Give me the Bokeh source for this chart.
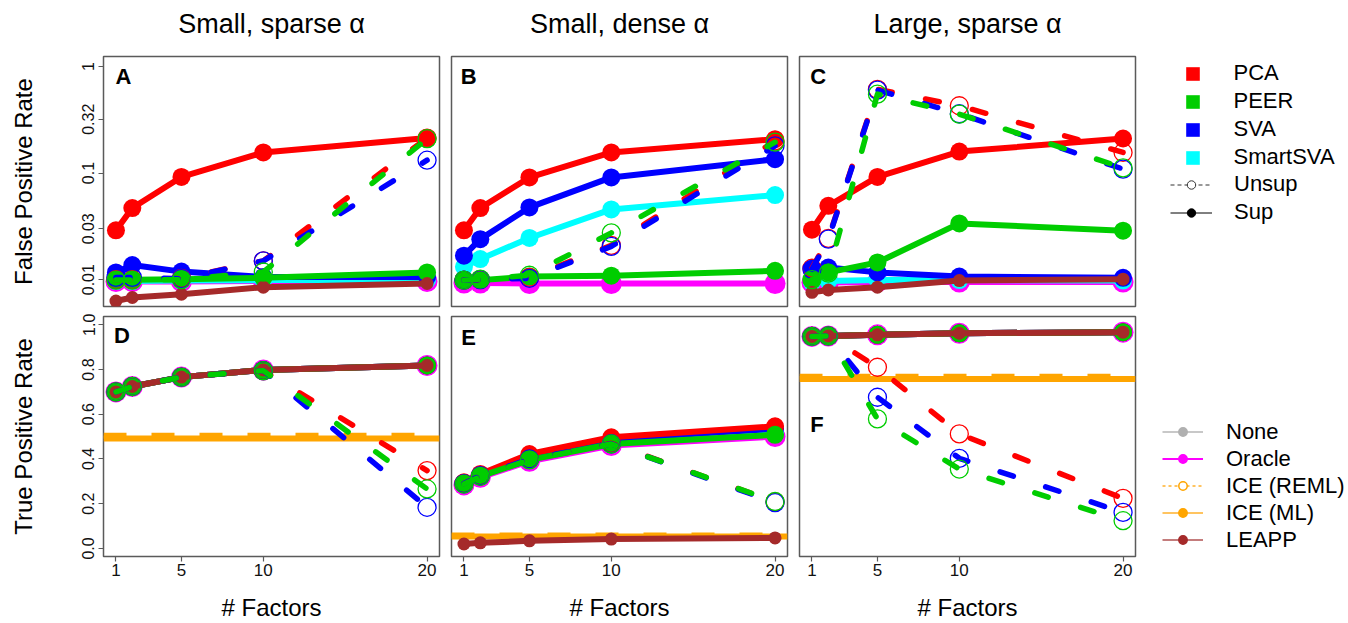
import math
from bokeh.plotting import figure
from bokeh.models import (Range1d, FixedTicker, Label, Span, Legend, LegendItem,
                          PrintfTickFormatter, LinearAxis)
from bokeh.layouts import row, column
from bokeh.embed import file_html
from bokeh.resources import INLINE

# ---------------- data ----------------
factors = [1, 2, 5, 10, 20]
x_ticks = [1, 5, 10, 20]
fpr_ticks = [0.01, 0.03, 0.1, 0.32, 1]
fpr_tick_labels = ["0.01", "0.03", "0.1", "0.32", "1"]
tpr_ticks = [0.0, 0.2, 0.4, 0.6, 0.8, 1.0]
column_titles = ["Small, sparse \u03b1", "Small, dense \u03b1", "Large, sparse \u03b1"]
row_titles = ["False Positive Rate", "True Positive Rate"]
x_title = "# Factors"
panel_letters = ["A", "B", "C", "D", "E", "F"]
method_names = ["PCA", "PEER", "SVA", "SmartSVA"]
mode_names = ["Unsup", "Sup"]
other_names = ["None", "Oracle", "ICE (REML)", "ICE (ML)", "LEAPP"]

# Panel A: FPR, small sparse
A_sup_PCA = [0.029, 0.047, 0.092, 0.156, 0.213]
A_sup_PEER = [0.0100, 0.0100, 0.0101, 0.0104, 0.0117]
A_sup_SVA = [0.0117, 0.0137, 0.0119, 0.0106, 0.0106]
A_sup_SmartSVA = [0.0097, 0.0097, 0.0098, 0.0099, 0.0099]
A_sup_Oracle = [0.0096, 0.0096, 0.0096, 0.0097, 0.0096]
A_sup_LEAPP = [0.0063, 0.0068, 0.0073, 0.0085, 0.0092]
A_unsup_PCA = [0.0100, 0.0100, 0.0103, 0.0150, 0.213]
A_unsup_SVA = [0.0105, 0.0105, 0.0102, 0.0150, 0.132]
A_unsup_PEER = [0.0099, 0.0099, 0.0100, 0.0118, 0.210]

# Panel B: FPR, small dense
B_sup_PCA = [0.029, 0.047, 0.091, 0.156, 0.208]
B_sup_PEER = [0.0099, 0.0099, 0.0107, 0.0109, 0.0121]
B_sup_SVA = [0.0168, 0.024, 0.0476, 0.091, 0.135]
B_sup_SmartSVA = [0.0132, 0.0156, 0.0246, 0.0456, 0.0622]
B_sup_Oracle = [0.0093, 0.0093, 0.0092, 0.0092, 0.0092]
B_sup_LEAPP = None
B_unsup_PCA = [0.0099, 0.0100, 0.0105, 0.0210, 0.200]
B_unsup_SVA = [0.0099, 0.0100, 0.0103, 0.0205, 0.180]
B_unsup_PEER = [0.0099, 0.0101, 0.0110, 0.0275, 0.195]

# Panel C: FPR, large sparse
C_sup_PCA = [0.0294, 0.0493, 0.092, 0.159, 0.211]
C_sup_PEER = [0.0099, 0.0117, 0.0145, 0.0337, 0.0288]
C_sup_SVA = [0.0126, 0.0130, 0.0117, 0.0107, 0.0104]
C_sup_SmartSVA = [0.0095, 0.0097, 0.0099, 0.0099, 0.0098]
C_sup_Oracle = [0.0094, 0.0094, 0.0095, 0.0095, 0.0095]
C_sup_LEAPP = [0.0076, 0.0080, 0.0085, 0.0098, 0.0101]
C_unsup_PCA = [0.0128, 0.0244, 0.61, 0.428, 0.156]
C_unsup_SVA = [0.0125, 0.0240, 0.60, 0.36, 0.109]
C_unsup_PEER = [0.0100, 0.0115, 0.55, 0.357, 0.112]

# Panel D: TPR, small sparse
D_sup_PCA = [0.700, 0.724, 0.766, 0.798, 0.818]
D_sup_PEER = [0.700, 0.724, 0.766, 0.798, 0.818]
D_sup_SVA = [0.700, 0.724, 0.766, 0.798, 0.818]
D_sup_SmartSVA = [0.700, 0.724, 0.766, 0.798, 0.818]
D_sup_Oracle = [0.700, 0.724, 0.766, 0.798, 0.818]
D_sup_LEAPP = [0.700, 0.724, 0.766, 0.798, 0.818]
D_unsup_PCA = [0.700, 0.724, 0.766, 0.795, 0.348]
D_unsup_SVA = [0.700, 0.724, 0.766, 0.795, 0.184]
D_unsup_PEER = [0.700, 0.724, 0.766, 0.795, 0.266]

# Panel E: TPR, small dense
E_sup_PCA = [0.296, 0.333, 0.422, 0.497, 0.546]
E_sup_PEER = [0.288, 0.322, 0.396, 0.467, 0.508]
E_sup_SVA = [0.293, 0.329, 0.415, 0.489, 0.535]
E_sup_SmartSVA = [0.290, 0.325, 0.400, 0.472, 0.515]
E_sup_Oracle = [0.284, 0.318, 0.390, 0.460, 0.500]
E_sup_LEAPP = [0.020, 0.025, 0.034, 0.042, 0.047]
E_unsup_PCA = [0.290, 0.325, 0.400, 0.470, 0.208]
E_unsup_SVA = [0.290, 0.325, 0.400, 0.468, 0.205]
E_unsup_PEER = [0.288, 0.322, 0.396, 0.467, 0.210]

# Panel F: TPR, large sparse
F_sup_PCA = [0.948, 0.950, 0.955, 0.962, 0.967]
F_sup_PEER = [0.948, 0.950, 0.955, 0.962, 0.967]
F_sup_SVA = [0.948, 0.950, 0.955, 0.962, 0.967]
F_sup_SmartSVA = [0.948, 0.950, 0.955, 0.962, 0.967]
F_sup_Oracle = [0.948, 0.950, 0.955, 0.962, 0.967]
F_sup_LEAPP = [0.948, 0.950, 0.955, 0.962, 0.967]
F_unsup_PCA = [0.948, 0.950, 0.810, 0.512, 0.224]
F_unsup_SVA = [0.948, 0.950, 0.676, 0.403, 0.161]
F_unsup_PEER = [0.948, 0.950, 0.579, 0.355, 0.124]

# ICE horizontal levels (TPR panels D, E, F)
ICE_ML_TPR = [0.492, 0.053, 0.758]
ICE_REML_TPR = [0.504, 0.058, 0.768]

# ---------------- styling ----------------
FONT = "Liberation Sans"
COL = {"PCA": "#FF0000", "PEER": "#00CD00", "SVA": "#0000FF", "SmartSVA": "#00FFFF",
       "Oracle": "#FF00FF", "LEAPP": "#A52A2A", "ICE": "#FFA500", "None": "#BEBEBE"}
SUP_ORDER = ["Oracle", "SmartSVA", "SVA", "PCA", "PEER", "LEAPP"]
SUP_SIZE = {"Oracle": 21, "LEAPP": 13}
UNSUP_ORDER = ["PCA", "SVA", "PEER"]
BOX = "#5a5a5a"
NAN = float("nan")

panels = [
    dict(sup={"PCA": A_sup_PCA, "PEER": A_sup_PEER, "SVA": A_sup_SVA, "SmartSVA": A_sup_SmartSVA,
              "Oracle": A_sup_Oracle, "LEAPP": A_sup_LEAPP},
         unsup={"PCA": A_unsup_PCA, "SVA": A_unsup_SVA, "PEER": A_unsup_PEER}),
    dict(sup={"PCA": B_sup_PCA, "PEER": B_sup_PEER, "SVA": B_sup_SVA, "SmartSVA": B_sup_SmartSVA,
              "Oracle": B_sup_Oracle, "LEAPP": B_sup_LEAPP},
         unsup={"PCA": B_unsup_PCA, "SVA": B_unsup_SVA, "PEER": B_unsup_PEER}),
    dict(sup={"PCA": C_sup_PCA, "PEER": C_sup_PEER, "SVA": C_sup_SVA, "SmartSVA": C_sup_SmartSVA,
              "Oracle": C_sup_Oracle, "LEAPP": C_sup_LEAPP},
         unsup={"PCA": C_unsup_PCA, "SVA": C_unsup_SVA, "PEER": C_unsup_PEER}),
    dict(sup={"PCA": D_sup_PCA, "PEER": D_sup_PEER, "SVA": D_sup_SVA, "SmartSVA": D_sup_SmartSVA,
              "Oracle": D_sup_Oracle, "LEAPP": D_sup_LEAPP},
         unsup={"PCA": D_unsup_PCA, "SVA": D_unsup_SVA, "PEER": D_unsup_PEER}),
    dict(sup={"PCA": E_sup_PCA, "PEER": E_sup_PEER, "SVA": E_sup_SVA, "SmartSVA": E_sup_SmartSVA,
              "Oracle": E_sup_Oracle, "LEAPP": E_sup_LEAPP},
         unsup={"PCA": E_unsup_PCA, "SVA": E_unsup_SVA, "PEER": E_unsup_PEER}),
    dict(sup={"PCA": F_sup_PCA, "PEER": F_sup_PEER, "SVA": F_sup_SVA, "SmartSVA": F_sup_SmartSVA,
              "Oracle": F_sup_Oracle, "LEAPP": F_sup_LEAPP},
         unsup={"PCA": F_unsup_PCA, "SVA": F_unsup_SVA, "PEER": F_unsup_PEER}),
]

# layout geometry (page drawn at 0,0)
WIDTHS = [445, 348, 348]
BLEFT = [103, 6, 6]
BRIGHT = 6
LEG_W = 207
HEIGHTS = [311, 312]
BTOP = [56, 5]
BBOT = [5, 67]
XR = (0.24, 20.76)
YR_FPR = (0.0056, 1.24)
YR_TPR = (-0.036, 1.037)

# panel letter positions (data coords: left x, vertical centre y)
LETTER_POS = [(0.97, 0.81), (0.80, 0.81), (0.90, 0.81), (0.88, 0.95), (0.83, 0.945), (0.90, 0.554)]


def style_axis(ax, size):
    ax.axis_line_color = None
    ax.major_tick_line_color = BOX
    ax.major_tick_line_width = 1.2
    ax.major_tick_out = 5
    ax.major_tick_in = 0
    ax.minor_tick_line_color = None
    ax.major_label_text_font = FONT
    ax.major_label_text_font_size = size
    ax.major_label_text_color = "#111111"
    ax.axis_label_text_font = FONT
    ax.axis_label_text_font_size = "24px"
    ax.axis_label_text_font_style = "normal"
    ax.axis_label_text_color = "black"


def make_panel(i):
    r, c = divmod(i, 3)
    log = (r == 0)
    yr = YR_FPR if log else YR_TPR
    p = figure(width=WIDTHS[c], height=HEIGHTS[r],
               x_range=Range1d(*XR), y_range=Range1d(*yr),
               y_axis_type="log" if log else "linear",
               x_axis_location="below" if r == 1 else None,
               y_axis_location="left" if c == 0 else None,
               min_border_left=BLEFT[c], min_border_right=BRIGHT,
               min_border_top=BTOP[r], min_border_bottom=BBOT[r],
               output_backend="svg", toolbar_location=None)
    p.grid.visible = False
    p.outline_line_color = BOX
    p.outline_line_width = 1.5
    p.background_fill_color = "white"
    p.border_fill_color = "white"

    if r == 0:
        tax = LinearAxis(axis_label=column_titles[c], ticker=FixedTicker(ticks=[]),
                         axis_line_color=None, major_tick_line_color=None,
                         minor_tick_line_color=None, major_tick_out=0, major_tick_in=0,
                         minor_tick_out=0, minor_tick_in=0, major_label_standoff=0,
                         axis_label_standoff=18, axis_label_text_font=FONT,
                         axis_label_text_font_size="27px", axis_label_text_font_style="normal",
                         axis_label_text_color="black")
        p.add_layout(tax, "above")
    if r == 1:
        p.xaxis.ticker = FixedTicker(ticks=x_ticks)
        style_axis(p.xaxis[0], "17px")
        p.xaxis.major_label_standoff = 2
        p.xaxis.axis_label = x_title
        p.xaxis.axis_label_standoff = 15
    if c == 0:
        if log:
            p.yaxis.ticker = FixedTicker(ticks=fpr_ticks)
            p.yaxis.major_label_overrides = dict(zip(fpr_ticks, fpr_tick_labels))
        else:
            p.yaxis.ticker = FixedTicker(ticks=tpr_ticks)
            p.yaxis.formatter = PrintfTickFormatter(format="%.1f")
        style_axis(p.yaxis[0], "16px")
        p.yaxis.major_label_orientation = "vertical"
        p.yaxis.major_label_standoff = 4
        p.yaxis.axis_label = row_titles[r]
        p.yaxis.axis_label_standoff = 43

    data = panels[i]
    if r == 1:
        p.add_layout(Span(location=ICE_ML_TPR[c], dimension="width", line_color=COL["ICE"],
                          line_width=6, level="underlay"))
        p.add_layout(Span(location=ICE_REML_TPR[c], dimension="width", line_color=COL["ICE"],
                          line_width=6, line_dash="23 25", level="underlay"))

    for m in SUP_ORDER:
        vals = data["sup"].get(m)
        if vals is None:
            continue
        p.line(factors, vals, line_color=COL[m], line_width=6, line_join="round", line_cap="round")
        p.scatter(factors, vals, size=SUP_SIZE.get(m, 18), fill_color=COL[m], line_color=None)

    for m in UNSUP_ORDER:
        vals = data["unsup"][m]
        p.line(factors, vals, line_color=COL[m], line_width=5.5, line_dash="14 34",
               line_cap="round", line_join="round")
        p.scatter(factors, vals, size=18, fill_color=None, line_color=COL[m], line_width=1.3)

    lx, ly = LETTER_POS[i]
    p.add_layout(Label(x=lx, y=ly, text=panel_letters[i], text_font=FONT, text_font_size="22px",
                       text_font_style="bold", text_color="black", text_align="left",
                       text_baseline="middle"))
    return p


def legend_fig(r):
    p = figure(width=LEG_W, height=HEIGHTS[r], x_range=Range1d(0, 1), y_range=Range1d(0, 1),
               x_axis_location=None, y_axis_location=None,
               min_border_left=0, min_border_right=0,
               min_border_top=BTOP[r], min_border_bottom=BBOT[r],
               output_backend="svg", toolbar_location=None)
    p.grid.visible = False
    p.outline_line_color = None
    return p


def legend_common(items, **kw):
    return Legend(items=items, padding=0, margin=0, border_line_color=None,
                  background_fill_alpha=0, label_text_font=FONT, label_text_font_size="22px",
                  label_text_color="black", label_height=24, **kw)


# top-right legend
L1 = legend_fig(0)
sq_items = []
for m in method_names:
    rr = L1.quad(left=[NAN], right=[NAN], top=[NAN], bottom=[NAN], fill_color=COL[m], line_color=None)
    sq_items.append(LegendItem(label=m, renderers=[rr]))
L1.add_layout(legend_common(sq_items, location=(42.5, 136), glyph_width=17, glyph_height=17,
                            spacing=2, label_standoff=33))
u_l = L1.line(x=[NAN], y=[NAN], line_color="#333333", line_width=1, line_dash="4 3")
u_p = L1.scatter(x=[NAN], y=[NAN], size=8, fill_color="white", line_color="#333333", line_width=1)
s_l = L1.line(x=[NAN], y=[NAN], line_color="black", line_width=1)
s_p = L1.scatter(x=[NAN], y=[NAN], size=8, fill_color="black", line_color="black")
L1.add_layout(legend_common([LegendItem(label=mode_names[0], renderers=[u_l, u_p]),
                             LegendItem(label=mode_names[1], renderers=[s_l, s_p])],
                            location=(29, 81), glyph_width=42, glyph_height=21,
                            spacing=2, label_standoff=22))

# bottom-right legend
L2 = legend_fig(1)
leg_style = [
    ("#C8C8C8", None, "#B0B0B0", "#B0B0B0"),
    ("#FF00FF", None, "#FF00FF", "#FF00FF"),
    ("#FFC460", "3 3", "white", "#FFA500"),
    ("#FFC460", None, "#FFA500", "#FFA500"),
    ("#C47C7C", None, "#A52A2A", "#A52A2A"),
]
b_items = []
for name, (lc, dash, fc, mc) in zip(other_names, leg_style):
    ln = L2.line(x=[NAN], y=[NAN], line_color=lc, line_width=2, line_dash=dash if dash else "solid")
    pt = L2.scatter(x=[NAN], y=[NAN], size=8, fill_color=fc, line_color=mc, line_width=1.5)
    b_items.append(LegendItem(label=name, renderers=[ln, pt]))
L2.add_layout(legend_common(b_items, location=(21, 3.4), glyph_width=41, glyph_height=21,
                            spacing=1, label_standoff=23))

figs = [make_panel(i) for i in range(6)]
layout = column(row(figs[0], figs[1], figs[2], L1), row(figs[3], figs[4], figs[5], L2))

open("out.html", "w").write(file_html(layout, INLINE))
